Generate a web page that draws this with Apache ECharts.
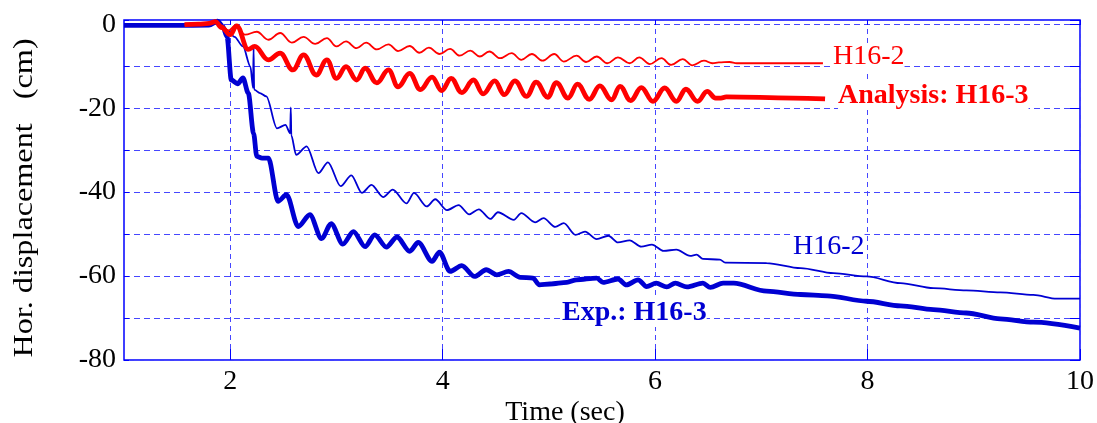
<!DOCTYPE html>
<html><head><meta charset="utf-8">
<script src="https://cdn.jsdelivr.net/npm/echarts@6/dist/echarts.min.js"></script>
<style>html,body{margin:0;padding:0;background:#fff}#c{width:1097px;height:423px}</style>
</head><body><div id="c"></div>
<script>
const xTicks = [2, 4, 6, 8, 10];
const yTicks = [0, -20, -40, -60, -80];

const expH163 = [[1.0,-0.3],[1.5,-0.3],[1.8,-0.2],[1.88,0.7],[1.93,-0.5],[1.97,-3],[2.01,-13.3],[2.07,-14.2],[2.12,-12.8],[2.17,-16.4],[2.22,-26],[2.25,-31.5],[2.3,-31.9],[2.36,-31.9],[2.45,-42.2],[2.53,-40.6],[2.64,-48.2],[2.75,-45.4],[2.86,-51.1],[2.95,-47.5],[3.06,-52.4],[3.16,-49.4],[3.27,-53],[3.36,-50.2],[3.47,-53.1],[3.57,-50.7],[3.69,-54.1],[3.77,-52],[3.9,-56.5],[3.97,-54.3],[4.07,-58.9],[4.18,-57.5],[4.3,-60.1],[4.41,-58.5],[4.51,-59.7],[4.62,-58.9],[4.73,-60.3],[4.85,-60.5],[4.91,-62.1],[5.01,-61.9],[5.17,-61.5],[5.26,-60.9],[5.45,-60.5],[5.51,-61.5],[5.65,-60.7],[5.73,-62.1],[5.84,-60.9],[5.92,-62.5],[6.01,-61.7],[6.11,-62.6],[6.19,-61.7],[6.3,-62.6],[6.45,-61.7],[6.52,-62.7],[6.64,-61.7],[6.74,-61.7],[7.05,-63.6],[7.37,-64.4],[7.62,-64.7],[7.99,-66],[8.31,-67.1],[8.62,-68],[8.93,-68.8],[9.25,-70.2],[9.56,-71],[10,-72.4]];

const expH162 = [[1.0,-0.3],[1.8,-0.2],[1.88,0.5],[1.93,-0.5],[1.97,-1.4],[2.04,-3],[2.12,-5.3],[2.19,-10.1],[2.215,-15.2],[2.22,-5.7],[2.225,-15.6],[2.28,-16.4],[2.34,-17.2],[2.44,-24.8],[2.52,-24],[2.565,-26],[2.57,-19.8],[2.575,-26.5],[2.62,-31.1],[2.72,-29.1],[2.83,-35.5],[2.92,-32.9],[3.04,-38.6],[3.14,-36],[3.24,-40.2],[3.33,-38.3],[3.44,-41.2],[3.53,-39.4],[3.66,-42.7],[3.73,-40.2],[3.85,-43.4],[3.93,-41.7],[4.04,-44.3],[4.15,-43.1],[4.25,-45.3],[4.34,-44.1],[4.45,-46.4],[4.52,-44.8],[4.67,-46.6],[4.74,-45],[4.87,-47.2],[4.95,-46.2],[5.06,-48.3],[5.14,-47.4],[5.25,-50.2],[5.34,-49.4],[5.45,-51.2],[5.56,-50.4],[5.65,-52],[5.76,-51.5],[5.87,-53],[5.97,-52.5],[6.08,-54],[6.2,-53.7],[6.33,-55.2],[6.39,-54.9],[6.45,-55.9],[6.61,-56.1],[6.66,-56.8],[7.05,-56.9],[7.37,-58.1],[7.68,-59.3],[7.99,-60.1],[8.31,-61.7],[8.62,-62.9],[8.93,-63.4],[9.25,-63.9],[9.56,-64.5],[9.78,-65.4],[10,-65.4]];

const anaH162 = [[1.57,-0.1],[1.7,0],[1.8,0.2],[1.86,0.6],[1.92,-0.3],[1.98,-1.5],[2.05,-0.3],[2.14,-2.5],[2.25,-1.8],[2.36,-3.7],[2.47,-2.1],[2.58,-4.4],[2.69,-3.0],[2.8,-4.7],[2.91,-3.3],[3.0,-5.3],[3.09,-4.1],[3.19,-5.7],[3.28,-4.4],[3.38,-6.0],[3.49,-4.8],[3.58,-6.4],[3.69,-5.2],[3.78,-6.8],[3.87,-5.6],[3.97,-7.1],[4.07,-5.9],[4.16,-7.5],[4.26,-6.3],[4.35,-7.7],[4.44,-6.5],[4.54,-8.1],[4.65,-6.9],[4.74,-8.5],[4.84,-7.1],[4.94,-8.7],[5.05,-7.1],[5.14,-8.9],[5.26,-7.5],[5.35,-9.0],[5.45,-7.7],[5.55,-9.3],[5.65,-7.9],[5.76,-9.3],[5.85,-7.9],[5.95,-9.5],[6.06,-8.1],[6.15,-9.7],[6.26,-8.3],[6.35,-9.8],[6.46,-8.7],[6.54,-9.3],[6.6,-9.1],[6.7,-9.0],[6.77,-9.3],[7.58,-9.3]];

const anaH163 = [[1.57,-0.1],[1.7,0],[1.8,0.2],[1.86,0.6],[1.92,-0.8],[2.0,-2.5],[2.06,-0.4],[2.17,-6],[2.23,-5.3],[2.36,-8.5],[2.47,-6.9],[2.59,-10.9],[2.69,-7.3],[2.81,-12.1],[2.91,-8.5],[3.0,-12.9],[3.09,-10.1],[3.19,-13.3],[3.27,-10.5],[3.38,-14],[3.49,-10.9],[3.58,-14.9],[3.69,-11.7],[3.79,-15.6],[3.9,-12.6],[3.99,-15.8],[4.08,-12.9],[4.18,-16.3],[4.29,-13.3],[4.38,-16.6],[4.49,-13.5],[4.58,-16.8],[4.68,-13.5],[4.79,-17.2],[4.88,-13.8],[4.99,-17.4],[5.07,-13.9],[5.18,-17.6],[5.27,-14.3],[5.38,-17.9],[5.48,-14.7],[5.59,-18.0],[5.67,-14.8],[5.77,-18.2],[5.87,-15.1],[5.98,-18.4],[6.09,-15.2],[6.2,-18.4],[6.29,-15.5],[6.4,-18.4],[6.49,-16],[6.57,-17.6],[6.62,-17.6],[6.67,-17.3],[7.3,-17.6],[7.6,-17.8]];

const FONT = '"Liberation Serif", "Times New Roman", serif';
const BLUE = '#0000d2';
const RED = '#ff0000';
const FRAME = '#0000ff';
const GRIDC = '#4646ff';

const chart = echarts.init(document.getElementById('c'), null, {renderer: 'canvas'});

const tickAxisX = (gi) => ({
  gridIndex: gi, type: 'value', min: 1, max: 10, interval: 1,
  axisLine: {show: false}, axisTick: {show: false}, axisLabel: {show: false},
  splitLine: {show: true, lineStyle: {color: ['rgba(0,0,0,0)', FRAME], width: 1}}
});

const option = {
  animation: false,
  backgroundColor: '#fff',
  grid: [
    {left: 124, right: 17, top: 20, bottom: 63, show: true, borderColor: FRAME, borderWidth: 1.5, backgroundColor: 'rgba(0,0,0,0)'},
    {left: 124, right: 17, bottom: 63, height: 11},
    {left: 124, right: 17, top: 20, height: 5}
  ],
  xAxis: [
    {gridIndex: 0, type: 'value', min: 1, max: 10, interval: 1,
     axisLine: {show: false}, axisTick: {show: false},
     axisLabel: {formatter: v => xTicks.includes(v) ? String(v) : '', color: '#000', fontFamily: FONT, fontSize: 28, margin: 8},
     splitLine: {show: true, lineStyle: {color: ['rgba(0,0,0,0)', GRIDC], type: [5, 4], width: 1}}},
    tickAxisX(1), tickAxisX(2)
  ],
  yAxis: [
    {gridIndex: 0, type: 'value', min: -80, max: 1, interval: 10,
     axisLine: {show: false},
     axisTick: {show: true, inside: true, length: 5, lineStyle: {color: FRAME}},
     axisLabel: {formatter: v => yTicks.includes(v) ? String(v) : '', color: '#000', fontFamily: FONT, fontSize: 28, margin: 8},
     splitLine: {show: true, lineStyle: {color: GRIDC, type: [6, 4], width: 1}}},
    {gridIndex: 0, type: 'value', position: 'right', min: -80, max: 1, interval: 10,
     axisLine: {show: false},
     axisTick: {show: true, inside: true, length: 10, lineStyle: {color: FRAME}},
     axisLabel: {show: false}, splitLine: {show: false}},
    {gridIndex: 1, type: 'value', min: 0, max: 1, show: false},
    {gridIndex: 2, type: 'value', min: 0, max: 1, show: false}
  ],
  series: [
    {name: 'Exp.: H16-2', type: 'line', data: expH162, showSymbol: false, smooth: 0.3, smoothMonotone: 'x',
     lineStyle: {color: BLUE, width: 1.8}, z: 3},
    {name: 'Exp.: H16-3', type: 'line', data: expH163, showSymbol: false, smooth: 0.3, smoothMonotone: 'x',
     lineStyle: {color: BLUE, width: 4.8}, z: 4},
    {name: 'Analysis: H16-2', type: 'line', data: anaH162, showSymbol: false, smooth: 0.4, smoothMonotone: 'x',
     lineStyle: {color: RED, width: 1.8}, z: 5},
    {name: 'Analysis: H16-3', type: 'line', data: anaH163, showSymbol: false, smooth: 0.4, smoothMonotone: 'x',
     lineStyle: {color: RED, width: 4.8}, z: 6}
  ],
  graphic: [
    {type: 'text', x: 833, y: 57, z: 20, style: {text: 'H16-2', fill: RED, font: '28px ' + FONT, align: 'left', verticalAlign: 'middle', backgroundColor: '#fff'}},
    {type: 'text', x: 838, y: 96, z: 20, style: {text: 'Analysis: H16-3', fill: RED, font: 'bold 28px ' + FONT, align: 'left', verticalAlign: 'middle', backgroundColor: '#fff'}},
    {type: 'text', x: 793, y: 247, z: 20, style: {text: 'H16-2', fill: BLUE, font: '28px ' + FONT, align: 'left', verticalAlign: 'middle', backgroundColor: '#fff'}},
    {type: 'text', x: 562, y: 313, z: 20, style: {text: 'Exp.: H16-3', fill: BLUE, font: 'bold 28px ' + FONT, align: 'left', verticalAlign: 'middle', backgroundColor: '#fff'}},
    {type: 'text', x: 565, y: 413, z: 20, style: {text: 'Time (sec)', fill: '#000', font: '28px ' + FONT, align: 'center', verticalAlign: 'middle'}},
    {type: 'text', x: 25, y: 198, rotation: Math.PI / 2, scaleX: 1.15, z: 20, style: {text: 'Hor. displacement   (cm)', fill: '#000', font: '28px ' + FONT, align: 'center', verticalAlign: 'middle'}}
  ]
};
chart.setOption(option);
</script>
</body></html>
